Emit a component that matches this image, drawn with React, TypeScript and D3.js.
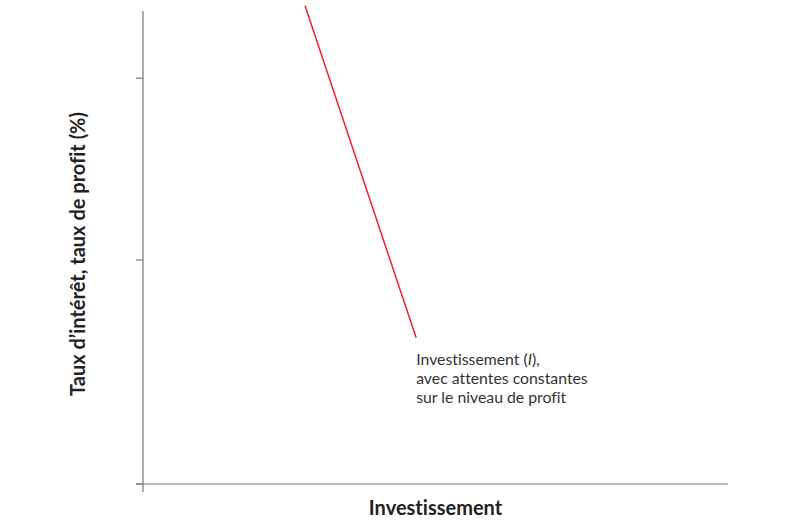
import React from "react";
import * as d3 from "d3";

const W = 810;
const H = 527;

// Demand-for-investment line (normalised units)
const investX = [0.277, 0.467];
const investY = [1.011, 0.309];
const yTickValues = [0, 0.4736, 0.858];
const xLabel = "Investissement";
const yLabel = "Taux d\u2019intérêt, taux de profit (%)";
const noteLines = ["Investissement (", "avec attentes constantes", "sur le niveau de profit"];

export default function App() {
  const margin = { left: 143, right: 82, top: 11, bottom: 43 };
  const x = d3.scaleLinear().domain([0, 1]).range([margin.left, W - margin.right]);
  const y = d3.scaleLinear().domain([0, 1]).range([H - margin.bottom, margin.top]);

  const pts: [number, number][] = investX.map((v, i) => [v, investY[i]]);
  const line = d3
    .line<[number, number]>()
    .x((d) => x(d[0]))
    .y((d) => y(d[1]));

  const x0 = x(0);
  const y0 = y(0);
  const end = pts[pts.length - 1];
  const font = "Lato, 'Noto Sans', sans-serif";
  const noLig = { fontVariantLigatures: "none" as const };

  return (
    <svg width={W} height={H} style={{ display: "block", position: "absolute", left: 0, top: 0 }}>
      <rect width={W} height={H} fill="#fff" />
      {/* axes */}
      <line x1={x0} x2={x0} y1={y(1)} y2={y0 + 8} stroke="#777" strokeWidth={1.2} />
      <line x1={x0 - 7} x2={x(1)} y1={y0} y2={y0} stroke="#777" strokeWidth={1.2} />
      {yTickValues.map((t, i) => (
        <line key={i} x1={x0 - 7} x2={x0} y1={y(t)} y2={y(t)} stroke="#777" strokeWidth={1.2} />
      ))}
      {/* investment line */}
      <path d={line(pts) || ""} fill="none" stroke="#e3262b" strokeWidth={1.5} />
      {/* annotation */}
      <text x={x(end[0])} y={y(end[1]) + 27} fontFamily={font} fontSize={15.8} fill="#333" style={noLig}>
        <tspan x={x(end[0])}>
          {noteLines[0]}
          <tspan fontStyle="italic">I</tspan>),
        </tspan>
        <tspan x={x(end[0])} dy={19}>{noteLines[1]}</tspan>
        <tspan x={x(end[0])} dy={19}>{noteLines[2]}</tspan>
      </text>
      {/* axis labels */}
      <text
        x={(x(0) + x(1)) / 2}
        y={y0 + 31}
        textAnchor="middle"
        fontFamily={font}
        fontWeight="bold"
        fontSize={20}
        fill="#222"
        style={noLig}
      >
        {xLabel}
      </text>
      <text
        transform={`translate(${85},${254}) rotate(-90)`}
        textAnchor="middle"
        fontFamily={font}
        fontWeight="bold"
        fontSize={20}
        fill="#222"
        style={noLig}
      >
        {yLabel}
      </text>
    </svg>
  );
}
